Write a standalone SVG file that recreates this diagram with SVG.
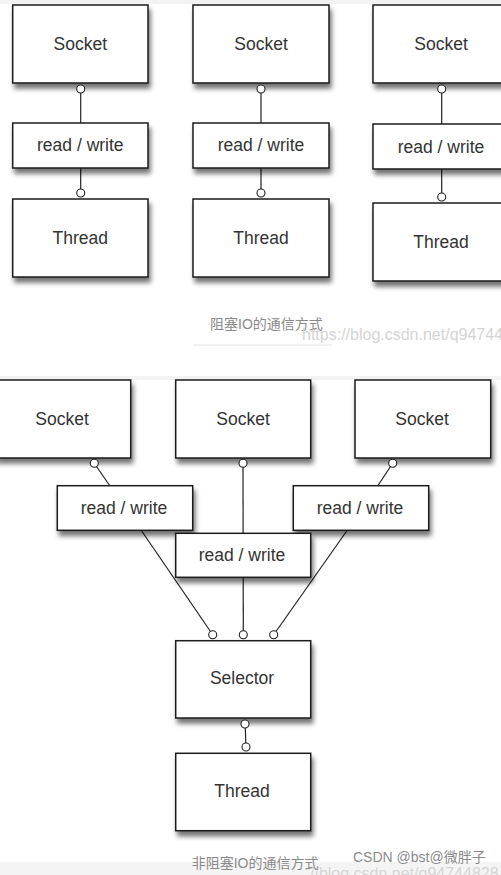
<svg xmlns="http://www.w3.org/2000/svg" width="501" height="875" viewBox="0 0 501 875">
<style>
.box{fill:#fff;stroke:#1a1a1a;stroke-width:1.5;filter:url(#sh)}
.lbl{font-family:"Liberation Sans",Arial,sans-serif;font-size:17.5px;fill:#333;text-anchor:middle}
.ln{stroke:#222;stroke-width:1.2;fill:none}
.pt{fill:#fff;stroke:#222;stroke-width:1.1}
.cap{font-family:"Liberation Sans","Noto Sans CJK SC",sans-serif;font-size:14px;fill:#8a8a8a}
.wm{font-family:"Liberation Sans","Noto Sans CJK SC",sans-serif;fill:#d4d4d4}
</style>
<defs>
<filter id="sh" x="-10%" y="-10%" width="130%" height="140%">
<feGaussianBlur in="SourceAlpha" stdDeviation="2.5"/>
<feOffset dx="2" dy="5" result="b"/>
<feComponentTransfer><feFuncA type="linear" slope="0.55"/></feComponentTransfer>
<feMerge><feMergeNode/><feMergeNode in="SourceGraphic"/></feMerge>
</filter>
</defs>
<rect x="0" y="0" width="501" height="875" fill="#fff"/>
<rect x="0" y="0" width="501" height="4" fill="#f3f3f3"/>
<rect x="0" y="376" width="501" height="4" fill="#f3f3f3"/>
<rect x="0" y="862" width="501" height="13" fill="#f4f4f4"/>

<g id="connectors">
<line class="ln" x1="80.7" y1="93" x2="80.7" y2="123"/>
<line class="ln" x1="80.7" y1="168" x2="80.7" y2="189"/>
<line class="ln" x1="261" y1="93" x2="261" y2="123"/>
<line class="ln" x1="261" y1="168" x2="261" y2="189"/>
<line class="ln" x1="441.7" y1="93" x2="441.7" y2="124"/>
<line class="ln" x1="441.7" y1="169" x2="441.7" y2="193"/>
<line class="ln" x1="96.5" y1="466.5" x2="110" y2="486"/>
<line class="ln" x1="141.7" y1="531" x2="210.5" y2="631.5"/>
<line class="ln" x1="243" y1="467" x2="243.3" y2="630.7"/>
<line class="ln" x1="390.5" y1="466.5" x2="377.7" y2="486"/>
<line class="ln" x1="346.7" y1="531" x2="276" y2="631.5"/>
<line class="ln" x1="245.3" y1="728" x2="245.8" y2="743"/>
</g>

<g id="block-socket-1"><rect class="box" x="12.7" y="5" width="135.3" height="78"/><text class="lbl" x="80.3" y="50">Socket</text></g>
<g id="block-rw-1"><rect class="box" x="12.7" y="123" width="135.3" height="45"/><text class="lbl" x="80.3" y="151">read / write</text></g>
<g id="block-thread-1"><rect class="box" x="12.7" y="199" width="135.3" height="78"/><text class="lbl" x="80.3" y="244">Thread</text></g>

<g id="block-socket-2"><rect class="box" x="193" y="5" width="136" height="78"/><text class="lbl" x="261" y="50">Socket</text></g>
<g id="block-rw-2"><rect class="box" x="193" y="123" width="136" height="45"/><text class="lbl" x="261" y="151">read / write</text></g>
<g id="block-thread-2"><rect class="box" x="193" y="199" width="136" height="78"/><text class="lbl" x="261" y="244">Thread</text></g>

<g id="block-socket-3"><rect class="box" x="373" y="5" width="136" height="78"/><text class="lbl" x="441" y="50">Socket</text></g>
<g id="block-rw-3"><rect class="box" x="373" y="124" width="136" height="45"/><text class="lbl" x="441" y="153">read / write</text></g>
<g id="block-thread-3"><rect class="box" x="373" y="203" width="136" height="78"/><text class="lbl" x="441" y="248">Thread</text></g>

<g id="ports-top">
<circle class="pt" cx="80.7" cy="89" r="4"/>
<circle class="pt" cx="80.7" cy="193" r="4"/>
<circle class="pt" cx="261" cy="89" r="4"/>
<circle class="pt" cx="261" cy="193" r="4"/>
<circle class="pt" cx="441.7" cy="89" r="4"/>
<circle class="pt" cx="441.7" cy="197" r="4"/>
</g>

<g id="caption-1">
<text class="cap" x="210" y="329">阻塞IO的通信方式</text>
<line x1="193" y1="345" x2="332" y2="345" stroke="#e6e6e6" stroke-width="1"/>
<text class="wm" x="302" y="340" font-size="16">https://blog.csdn.net/q94744</text>
</g>

<g id="nb-socket-1"><rect class="box" x="-5" y="380" width="135.7" height="78"/><text class="lbl" x="62" y="425">Socket</text></g>
<g id="nb-socket-2"><rect class="box" x="175.7" y="380" width="135" height="78"/><text class="lbl" x="243" y="425">Socket</text></g>
<g id="nb-socket-3"><rect class="box" x="355" y="380" width="135.7" height="78"/><text class="lbl" x="422" y="425">Socket</text></g>

<g id="nb-rw-1"><rect class="box" x="57.3" y="485.7" width="135.4" height="44.6"/><text class="lbl" x="124" y="514">read / write</text></g>
<g id="nb-rw-3"><rect class="box" x="293.3" y="485.7" width="135.4" height="44.6"/><text class="lbl" x="360" y="514">read / write</text></g>
<g id="nb-rw-2"><rect class="box" x="175.7" y="533.3" width="135" height="44"/><text class="lbl" x="242" y="561">read / write</text></g>

<g id="nb-selector"><rect class="box" x="175.7" y="640.7" width="135" height="77.3"/><text class="lbl" x="242" y="684">Selector</text></g>
<g id="nb-thread"><rect class="box" x="175.7" y="753.3" width="135" height="77.4"/><text class="lbl" x="242" y="797">Thread</text></g>

<g id="ports-bottom">
<circle class="pt" cx="94.3" cy="463.3" r="4"/>
<circle class="pt" cx="243" cy="463.3" r="4"/>
<circle class="pt" cx="392.7" cy="463.3" r="4"/>
<circle class="pt" cx="212.7" cy="634.7" r="4"/>
<circle class="pt" cx="243.3" cy="634.7" r="4"/>
<circle class="pt" cx="273.7" cy="634.7" r="4"/>
<circle class="pt" cx="245" cy="724" r="4"/>
<circle class="pt" cx="246" cy="747" r="4"/>
</g>

<g id="caption-2">
<text class="wm" x="310" y="879" font-size="16" fill="#e0e0e0">//blog.csdn.net/q94744828</text>
<text class="cap" x="191.7" y="868" font-size="14.5">非阻塞IO的通信方式</text>
<text class="cap" x="353" y="862" fill="#9a9a9a">CSDN @bst@微胖子</text>
</g>
</svg>
